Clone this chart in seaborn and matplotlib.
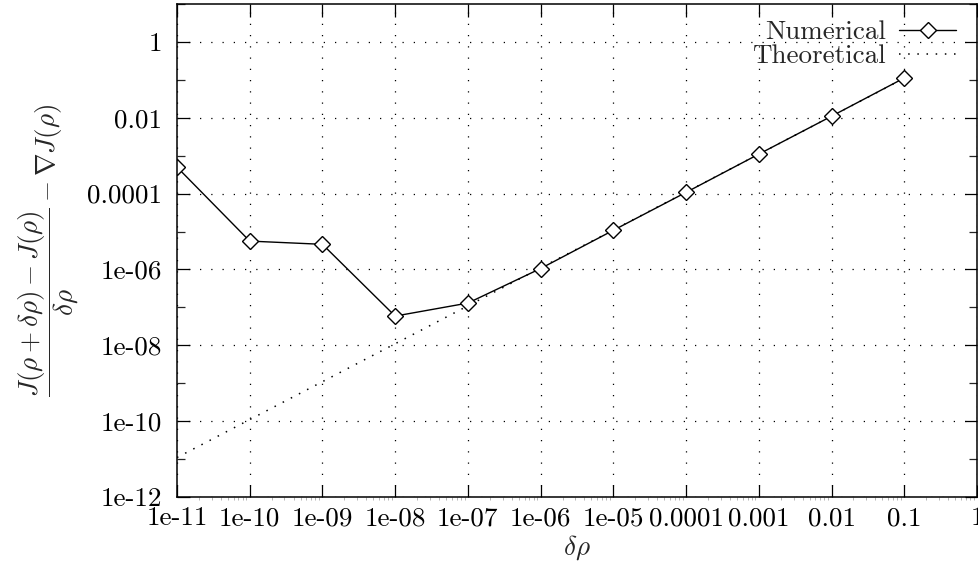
import numpy as np
import pandas as pd
import matplotlib
matplotlib.use("Agg")
import matplotlib.pyplot as plt
import matplotlib.ticker as mticker
import seaborn as sns

delta_rho = [1e-11, 1e-10, 1e-9, 1e-8, 1e-7, 1e-6, 1e-5, 1e-4, 1e-3, 1e-2, 1e-1]
numerical = [5.0e-4, 5.6e-6, 4.6e-6, 5.9e-8, 1.3e-7, 1.06e-6, 1.08e-5, 1.08e-4,
             1.1e-3, 1.1e-2, 0.112]
theoretical = [1.1e-11, 1.1e-10, 1.1e-9, 1.1e-8, 1.1e-7, 1.1e-6, 1.1e-5, 1.1e-4,
               1.1e-3, 1.1e-2, 0.11]

x_ticks = [1e-11, 1e-10, 1e-9, 1e-8, 1e-7, 1e-6, 1e-5, 1e-4, 1e-3, 1e-2, 1e-1, 1]
x_labels = ["1e-11", "1e-10", "1e-09", "1e-08", "1e-07", "1e-06", "1e-05",
            "0.0001", "0.001", "0.01", "0.1", "1"]
y_ticks = [1e-12, 1e-10, 1e-8, 1e-6, 1e-4, 1e-2, 1]
y_labels = ["1e-12", "1e-10", "1e-08", "1e-06", "0.0001", "0.01", "1"]
y_minor = [1e-11, 1e-9, 1e-7, 1e-5, 1e-3, 1e-1, 10]

FS = 19.5

sns.set_style("ticks")
plt.rcParams["font.family"] = ["cmr10", "DejaVu Serif"]
plt.rcParams["mathtext.fontset"] = "cm"
plt.rcParams["axes.unicode_minus"] = False
plt.rcParams["axes.formatter.use_mathtext"] = True

df = pd.DataFrame({"delta": delta_rho, "num": numerical, "theo": theoretical})

fig = plt.figure(figsize=(9.79, 5.64), dpi=100)
ax = fig.add_axes([177 / 979, 67 / 564, 800 / 979, 493 / 564])

sns.lineplot(data=df, x="delta", y="theo", ax=ax, color="black",
             linestyle=(0, (1, 5)), linewidth=1.1, label="Theoretical")
sns.lineplot(data=df, x="delta", y="num", ax=ax, color="black", linewidth=1.0,
             marker="D", markersize=8, markerfacecolor="white",
             markeredgecolor="black", markeredgewidth=1.0, label="Numerical")

ax.set_xscale("log")
ax.set_yscale("log")
ax.set_xlim(1e-11, 1)
ax.set_ylim(1e-12, 10)

ax.xaxis.set_major_locator(mticker.FixedLocator(x_ticks))
ax.xaxis.set_major_formatter(mticker.FixedFormatter(x_labels))
ax.xaxis.set_minor_locator(mticker.LogLocator(base=10, subs=np.arange(2, 10), numticks=30))
ax.xaxis.set_minor_formatter(mticker.NullFormatter())
ax.yaxis.set_major_locator(mticker.FixedLocator(y_ticks))
ax.yaxis.set_major_formatter(mticker.FixedFormatter(y_labels))
ax.yaxis.set_minor_locator(mticker.FixedLocator(y_minor))
ax.yaxis.set_minor_formatter(mticker.NullFormatter())

ax.tick_params(which="major", direction="in", length=9, width=0.9,
               top=True, right=True, labelsize=FS, colors="black")
ax.tick_params(axis="x", which="major", pad=7)
ax.tick_params(axis="y", which="major", pad=11)
ax.tick_params(axis="y", which="minor", direction="in", length=6, width=0.9,
               left=True, right=True)
ax.tick_params(axis="x", which="minor", direction="out", length=2, width=0.5,
               bottom=True, top=False, color="0.6")

ax.grid(which="major", color="black", linestyle=(0, (1, 8)), linewidth=0.9)
for s in ax.spines.values():
    s.set_color("black")
    s.set_linewidth(1.1)

ax.set_xlabel(r"$\delta\rho$", fontsize=FS, labelpad=2)
ax.set_ylabel(r"$\dfrac{J(\rho+\delta\rho)-J(\rho)}{\delta\rho} - \nabla J(\rho)$",
              fontsize=FS, labelpad=4)

handles, labels = ax.get_legend_handles_labels()
order = [labels.index("Numerical"), labels.index("Theoretical")]
ax.legend([handles[i] for i in order], [labels[i] for i in order],
          loc="upper right", bbox_to_anchor=(0.994, 1.0), frameon=False,
          markerfirst=False, fontsize=FS, handlelength=2.1, handletextpad=0.5,
          labelspacing=0.0, borderpad=0.1)

fig.savefig("out.png", dpi=100)
